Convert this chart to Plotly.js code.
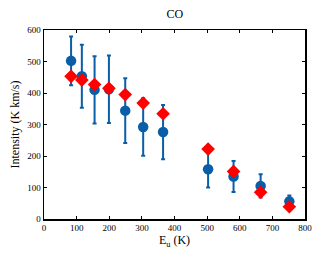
<!DOCTYPE html>
<html><head><meta charset="utf-8">
<script src="https://cdn.plot.ly/plotly-3.0.1.min.js"></script>
<style>html,body{margin:0;padding:0;background:#fff}#p{width:321px;height:256px}</style>
</head><body><div id="p"></div>
<script>
const eu = [83, 116, 155, 199, 249, 304, 365, 503, 581, 664, 752];
const observed = [502, 453, 410, 412, 344, 292, 276, 158, 135, 105, 56];
const observedErr = [77, 100, 107, 107, 103, 91, 86, 58, 49, 37, 19];
const model = [453, 441, 427, 415, 395, 368, 334, 222, 151, 85, 39];

const traces = [
  {x: eu, y: observed, type: 'scatter', mode: 'markers',
   marker: {color: '#0a5ea8', size: 10.5, symbol: 'circle'},
   error_y: {type: 'data', array: observedErr, visible: true, color: '#0a5ea8', thickness: 2, width: 2},
   showlegend: false},
  {x: eu, y: model, type: 'scatter', mode: 'markers',
   marker: {color: '#ff0000', size: 10.5, symbol: 'diamond'},
   showlegend: false}
];
const ax = {showgrid: false, zeroline: false, showline: true, linecolor: '#000', linewidth: 1.5, mirror: 'ticks',
  ticks: 'inside', ticklen: 3, tickcolor: '#000', tickwidth: 1,
  tickfont: {family: 'Liberation Serif', size: 9, color: '#000'}};
const layout = {
  width: 321, height: 256,
  margin: {l: 44, r: 16, t: 30, b: 37},
  paper_bgcolor: '#fff', plot_bgcolor: '#fff',
  font: {family: 'Liberation Serif', color: '#000'},
  title: {text: 'CO', font: {family: 'Liberation Serif', size: 12, color: '#000'}, x: 0.545, xanchor: 'center', y: 0.945, yanchor: 'middle'},
  xaxis: Object.assign({}, ax, {range: [0, 800], dtick: 100, tick0: 0,
    title: {text: 'E<sub>u</sub> (K)', font: {family: 'Liberation Serif', size: 12, color: '#000'}, standoff: 3}}),
  yaxis: Object.assign({}, ax, {range: [0, 600], dtick: 100, tick0: 0,
    title: {text: 'Intensity (K km/s)', font: {family: 'Liberation Serif', size: 12, color: '#000'}, standoff: 5}})
};
Plotly.newPlot('p', traces, layout, {displayModeBar: false, staticPlot: true});
</script>
</body></html>
